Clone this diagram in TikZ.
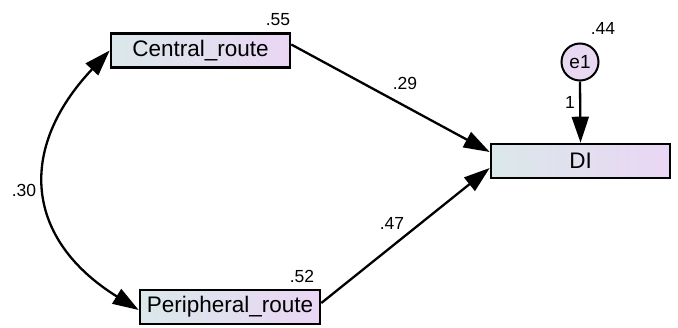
\documentclass[tikz,border=0pt]{standalone}
\usepackage{fontspec}
\setmainfont{Liberation Sans}
\usetikzlibrary{arrows.meta}
\definecolor{boxleft}{RGB}{218,232,234}
\definecolor{boxright}{RGB}{234,214,244}
\definecolor{errfill}{RGB}{232,216,242}
\tikzset{
  varbox/.style={draw=black, line width=2.6pt, inner sep=0pt,
    left color=boxleft, right color=boxright,
    minimum height=34pt, font=\fontsize{22.5}{26}\selectfont},
  errvar/.style={circle, draw=black, line width=2pt, fill=errfill,
    minimum size=37pt, inner sep=0pt, font=\fontsize{19}{22}\selectfont},
  coef/.style={font=\fontsize{17.5}{20}\selectfont, inner sep=0pt},
  regpath/.style={line width=2.3pt, -{Triangle[length=26pt,width=17pt]}},
  cov/.style={line width=2.3pt, {Triangle[length=26pt,width=17pt]}-{Triangle[length=26pt,width=17pt]}}
}
\begin{document}
\begin{tikzpicture}[x=1pt,y=-1pt]
  \useasboundingbox (0,0) rectangle (678,327);
  % observed variables
  \node[varbox, minimum width=179pt] (cr) at (200.5,50.5) {Central\_route};
  \node[varbox, minimum width=180pt] (pr) at (230,307) {Peripheral\_route};
  \node[varbox, minimum width=179pt] (di) at (580.5,161) {DI};
  % error term of DI
  \node[errvar] (e1) at (580,62) {e1};
  % variances and weights
  \node[coef] (v1) at (278,20) {.55};
  \node[coef] (v2) at (302,276) {.52};
  \node[coef] (v3) at (603,28) {.44};
  \node[coef] (w1) at (570,102) {1};
  \node[coef] (b1) at (405,83) {.29};
  \node[coef] (b2) at (392,223) {.47};
  \node[coef] (c1) at (24,190) {.30};
  % regression paths
  \draw[regpath] ([yshift=6pt]cr.east) -- ([yshift=9pt]di.west);
  \draw[regpath] ([yshift=4pt]pr.east) -- ([yshift=-7pt]di.west);
  \draw[regpath] (e1.south) -- (di.north);
  % covariance between the two routes
  \draw[cov] (cr.west) .. controls (16,150) and (26,240) .. ([yshift=-3pt]pr.west);
\end{tikzpicture}
\end{document}
